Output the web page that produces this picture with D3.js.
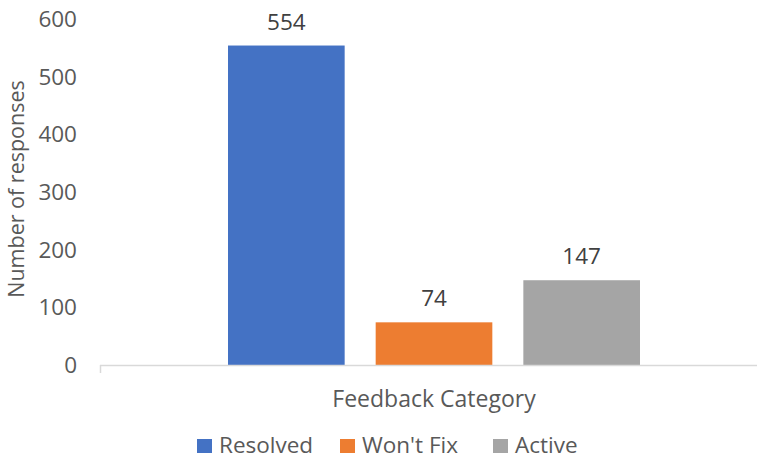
<!DOCTYPE html>
<html>
<head>
<meta charset="utf-8">
<script src="https://cdn.jsdelivr.net/npm/d3@7"></script>
<style>
  body { margin: 0; background: #fff; }
  text { font-family: "Open Sans", "Noto Sans", sans-serif; }
</style>
</head>
<body>
<div id="chart"></div>
<script>
"use strict";
(function() {

const WIDTH = 757
const HEIGHT = 459

const series = ["Resolved", "Won't Fix", "Active"]
const values = [554, 74, 147]
const colors = ["#4472c4", "#ed7d31", "#a5a5a5"]
const yTicks = [0, 100, 200, 300, 400, 500, 600]
const category = "Feedback Category"
const yTitle = "Number of responses"

const svg = d3.select("#chart").append("svg")
    .attr("width", WIDTH)
    .attr("height", HEIGHT)

// scales
let y_scale = d3.scaleLinear().domain([0, 600]).range([365, 19])
let x_scale = d3.scaleBand().domain(series).range([228, 640])
    .paddingInner(0.21).paddingOuter(0)

// y tick labels (no gridlines)
svg.append("g").selectAll("text")
    .data(yTicks)
    .join("text")
    .attr("x", 77)
    .attr("y", d => y_scale(d))
    .attr("dy", "0.35em")
    .attr("text-anchor", "end")
    .style("font-size", "22.5px")
    .style("fill", "#595959")
    .text(d => d)

// bars
svg.append("g").selectAll("rect")
    .data(values)
    .join("rect")
    .attr("x", (d, i) => x_scale(series[i]))
    .attr("y", d => y_scale(d))
    .attr("width", x_scale.bandwidth())
    .attr("height", d => y_scale(0) - y_scale(d))
    .style("fill", (d, i) => colors[i])

// data labels
svg.append("g").selectAll("text")
    .data(values)
    .join("text")
    .attr("x", (d, i) => x_scale(series[i]) + x_scale.bandwidth() / 2)
    .attr("y", d => y_scale(d) - 16)
    .attr("text-anchor", "middle")
    .style("font-size", "22.5px")
    .style("fill", "#404040")
    .text(d => d)

// x axis line
svg.append("line")
    .attr("x1", 100).attr("x2", WIDTH)
    .attr("y1", y_scale(0) + 0.5).attr("y2", y_scale(0) + 0.5)
    .style("stroke", "#d9d9d9")
    .style("stroke-width", 1.5)
svg.append("line")
    .attr("x1", 100.5).attr("x2", 100.5)
    .attr("y1", y_scale(0)).attr("y2", y_scale(0) + 8)
    .style("stroke", "#d9d9d9")
    .style("stroke-width", 1.5)

// axis titles
svg.append("text")
    .attr("x", 434)
    .attr("y", 407)
    .attr("text-anchor", "middle")
    .style("font-size", "23px")
    .style("fill", "#595959")
    .text(category)

svg.append("text")
    .attr("transform", "translate(24, 189) rotate(-90)")
    .attr("text-anchor", "middle")
    .style("font-size", "21.5px")
    .style("fill", "#595959")
    .text(yTitle)

// legend
const legendX = [197, 340, 493]
let legend = svg.append("g").selectAll("g")
    .data(series)
    .join("g")
    .attr("transform", (d, i) => `translate(${legendX[i]}, 445)`)

legend.append("rect")
    .attr("x", 0).attr("y", -6)
    .attr("width", 15).attr("height", 14)
    .style("fill", (d, i) => colors[i])

legend.append("text")
    .attr("x", 22)
    .attr("y", 7.5)
    .style("font-size", "22.5px")
    .style("fill", "#595959")
    .text(d => d)

})();
</script>
</body>
</html>
